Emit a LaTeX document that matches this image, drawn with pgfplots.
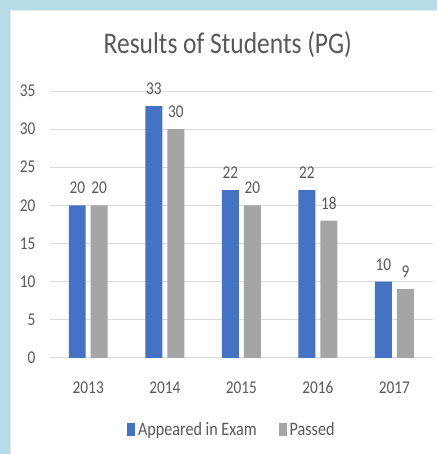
\documentclass[border=0pt]{standalone}
\usepackage{pgfplots}
\pgfplotsset{compat=1.18}
\usepackage{fontspec}
\setmainfont[FakeStretch=0.85]{Carlito}
\definecolor{cblue}{HTML}{4472C4}
\definecolor{cgray}{HTML}{A5A5A5}
\definecolor{ctext}{HTML}{595959}
\definecolor{cgrid}{HTML}{D9D9D9}
\definecolor{frame}{RGB}{182,220,232}
\begin{document}
\begin{tikzpicture}[x=1bp,y=1bp]
\fill[frame] (0,0) rectangle (437,454);
\fill[white] (10,0) rectangle (437,444);
\draw[cgrid!60,line width=0.6bp] (10.3,0) -- (10.3,443.7) -- (437,443.7);
\node[text=ctext,font=\fontsize{30bp}{34bp}\selectfont] at (228,409) {Results of Students (PG)};
\begin{axis}[
  at={(50bp,96bp)}, anchor=south west,
  scale only axis, width=383bp, height=267bp,
  xmin=-0.5, xmax=4.5, ymin=0, ymax=35,
  ytick={0,5,...,35},
  xtick={0,1,2,3,4},
  xticklabels={2013,2014,2015,2016,2017},
  ymajorgrids, grid style={cgrid, line width=0.8bp},
  axis line style={draw=none},
  major tick length=0,
  tick label style={text=ctext,font=\fontsize{18bp}{21bp}\selectfont},
  /pgf/number format/assume math mode=true,
  yticklabel style={anchor=east, xshift=-11bp},
  xticklabel style={anchor=base, yshift=-36bp},
  ybar=5bp, bar width=17bp,
  nodes near coords,
  every node near coord/.append style={text=ctext,font=\fontsize{18bp}{21bp}\selectfont, inner sep=2bp, yshift=9bp},
  legend style={at={(0.475,-0.27)}, anchor=center, draw=none, legend columns=2,
    font=\fontsize{19bp}{22bp}\selectfont, text=ctext,
    /tikz/every even column/.append style={column sep=20bp},
    /tikz/every odd column/.append style={column sep=1bp}},
  legend image code/.code={\fill[#1,draw=none] (0bp,-6.5bp) rectangle (8bp,6.5bp);},
]
\addplot[fill=cblue, draw=none] coordinates {(0,20) (1,33) (2,22) (3,22) (4,10)};
\addplot[fill=cgray, draw=none] coordinates {(0,20) (1,30) (2,20) (3,18) (4,9)};
\legend{Appeared in Exam, Passed}
\end{axis}
\end{tikzpicture}
\end{document}
